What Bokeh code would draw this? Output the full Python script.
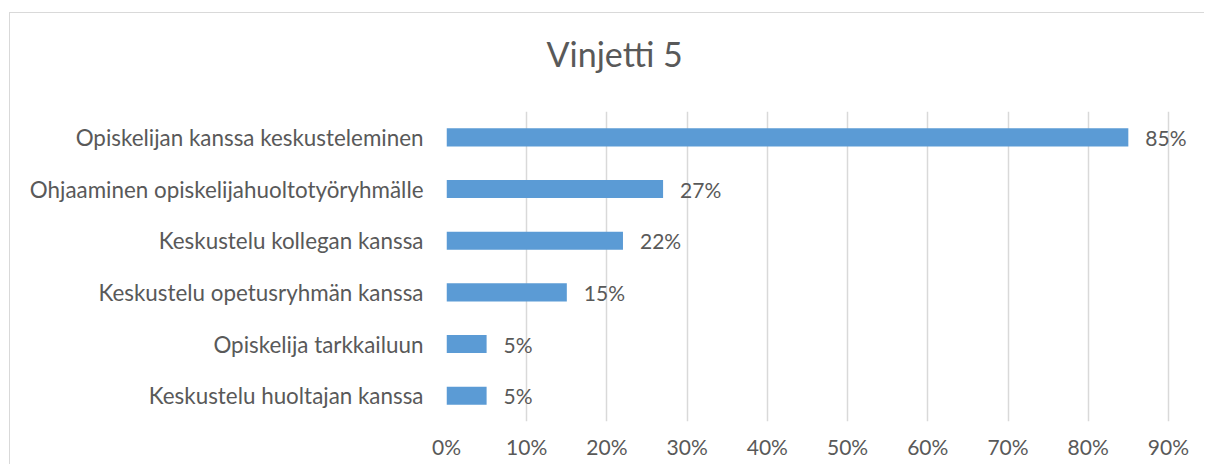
from bokeh.plotting import figure
from bokeh.models import (ColumnDataSource, FactorRange, Range1d, FixedTicker,
                          NumeralTickFormatter, LabelSet, Title)
from bokeh.core.properties import value
from bokeh.embed import file_html
from bokeh.resources import INLINE

title_text = "Vinjetti 5"
categories = [
    "Opiskelijan kanssa keskusteleminen",
    "Ohjaaminen opiskelijahuoltotyöryhmälle",
    "Keskustelu kollegan kanssa",
    "Keskustelu opetusryhmän kanssa",
    "Opiskelija tarkkailuun",
    "Keskustelu huoltajan kanssa",
]
values = [0.85, 0.27, 0.22, 0.15, 0.05, 0.05]
x_ticks = [0.0, 0.1, 0.2, 0.3, 0.4, 0.5, 0.6, 0.7, 0.8, 0.9]

FONT = "Lato"
TXT = "#595959"
BAR = "#5B9BD5"
GRID = "#D9D9D9"

labels = [f"{round(v * 100)}%" for v in values]
source = ColumnDataSource(dict(cat=categories, val=values, lab=labels))

p = figure(
    width=1195, height=452,
    y_range=FactorRange(factors=list(reversed(categories))),
    x_range=Range1d(0, 0.93),
    output_backend="svg", toolbar_location=None,
    min_border_left=436, min_border_right=13,
    min_border_top=98, min_border_bottom=44,
)
p.styles = {"margin-left": "9px", "margin-top": "12px",
            "border-top": "1px solid #D9D9D9", "border-left": "1px solid #D9D9D9"}
p.outline_line_color = None
p.background_fill_color = "white"
p.border_fill_color = "white"

# spacer between title and plot area, then the title itself
p.add_layout(Title(text=" ", text_font=FONT, text_font_size="30px", standoff=0), "above")
p.add_layout(Title(text=title_text, text_font=FONT, text_font_size="34px",
                   text_font_style="normal", text_color=TXT,
                   align="left", offset=100, standoff=0), "above")

p.hbar(y="cat", right="val", left=0, height=0.35, source=source,
       fill_color=BAR, line_color=None)

p.xaxis.ticker = FixedTicker(ticks=x_ticks)
p.xaxis.formatter = NumeralTickFormatter(format="0%")
for ax in (p.xaxis, p.yaxis):
    ax.axis_line_color = None
    ax.major_tick_line_color = None
    ax.minor_tick_line_color = None
    ax.major_label_text_font = FONT
    ax.major_label_text_color = TXT
p.xaxis.major_label_text_font_size = "21px"
p.yaxis.major_label_text_font_size = "22.4px"
p.xaxis.major_label_standoff = 6
p.yaxis.major_label_standoff = 17

p.ygrid.grid_line_color = None
p.xgrid.grid_line_color = GRID
p.xgrid.grid_line_width = 1.5

p.add_layout(LabelSet(x="val", y="cat", text="lab", source=source,
                      x_offset=17, y_offset=0, text_baseline="middle",
                      text_font=value(FONT), text_font_size=value("21px"),
                      text_color=TXT))

open("out.html", "w").write(file_html(p, INLINE))
